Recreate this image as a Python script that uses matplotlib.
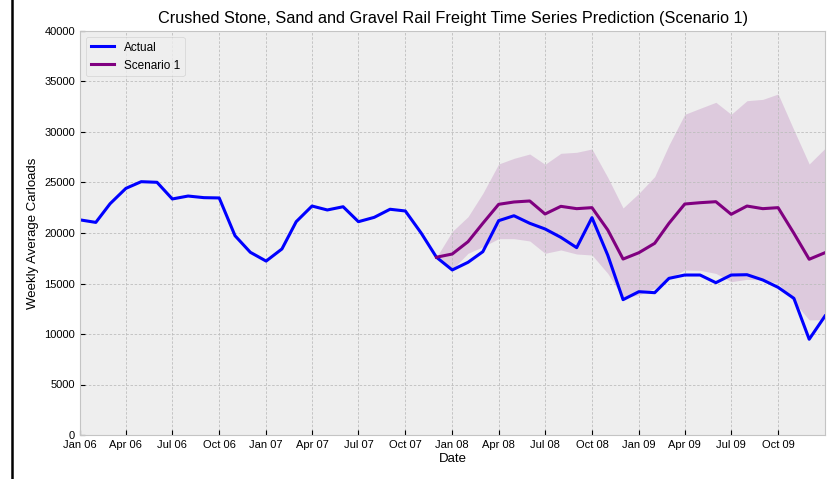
import matplotlib

matplotlib.use("Agg")

import matplotlib.pyplot as plt
from matplotlib.lines import Line2D
import pandas as pd

# monthly points, Jan 2006 .. Jan 2010
dates = pd.date_range("2006-01-01", periods=49, freq="MS")

actual = [
    21300, 21050, 22900, 24420, 25080, 25020, 23370, 23660, 23500, 23470,
    19730, 18090, 17220, 18420, 21120, 22670, 22280, 22600, 21120, 21550,
    22350, 22180, 20000, 17600, 16340, 17100, 18150, 21220, 21710, 20960,
    20400, 19570, 18550, 21520, 17800, 13400, 14190, 14090, 15510, 15840,
    15840, 15080, 15840, 15870, 15350, 14620, 13530, 9480, 11780,
]

# scenario starts at Dec 2007 (index 23)
fc_start = 23
scenario = [
    17600, 17920, 19140, 20960, 22840, 23070, 23170, 21880, 22640, 22410,
    22510, 20300, 17420, 18050, 18980, 20960, 22870, 23000, 23100, 21850,
    22670, 22410, 22510, 19970, 17400, 18050,
]
upper = [
    17600, 20150, 21620, 23930, 26830, 27390, 27820, 26800, 27890, 27990,
    28320, 25500, 22480, 23930, 25580, 28710, 31750, 32340, 32940, 31750,
    33100, 33230, 33760, 30200, 26830, 28380,
]
lower = [
    17600, 16400, 17990, 18640, 19440, 19440, 19210, 17990, 18320, 17920,
    17820, 16000, 13600, 13860, 14520, 15510, 16340, 16300, 16000, 15180,
    15410, 15350, 15020, 13200, 11390, 11420,
]

tick_dates = dates[0:46:3]
tick_labels = [
    "Jan 06", "Apr 06", "Jul 06", "Oct 06", "Jan 07", "Apr 07", "Jul 07", "Oct 07",
    "Jan 08", "Apr 08", "Jul 08", "Oct 08", "Jan 09", "Apr 09", "Jul 09", "Oct 09",
]

plt.style.use("bmh")
plt.rcParams["font.family"] = ["Liberation Sans", "DejaVu Sans"]

fig = plt.figure(figsize=(8.34, 4.79), dpi=100)
fig.patch.set_facecolor("white")
ax = fig.add_axes([80 / 834, 44 / 479, 745 / 834, 404 / 479])

fc_dates = dates[fc_start:]
ax.fill_between(fc_dates, lower, upper, color="purple", alpha=0.15, linewidth=0)
ax.plot(dates, actual, color="blue", lw=2.2, label="Actual")
ax.plot(fc_dates, scenario, color="purple", lw=2.2, label="Scenario 1")

ax.set_xlim(dates[0], dates[-1])
ax.set_ylim(0, 40000)
ax.set_yticks(range(0, 40001, 5000))
ax.set_xticks(tick_dates)
ax.set_xticklabels(tick_labels)
ax.tick_params(labelsize=8)
ax.grid(True, linestyle=(0, (3, 2)), color="#bdbdbd", lw=0.6)
for s in ax.spines.values():
    s.set_color("#c4c4c4")

ax.set_title("Crushed Stone, Sand and Gravel Rail Freight Time Series Prediction (Scenario 1)",
             fontsize=11.7, pad=6)
ax.set_xlabel("Date", fontsize=9.5, labelpad=2)
ax.set_ylabel("Weekly Average Carloads", fontsize=9.5)
ax.legend(loc="upper left", fontsize=8.5, frameon=True)

# border line at left edge of the original image
fig.add_artist(Line2D([12 / 834, 12 / 834], [0, 1], color="black", lw=1.8,
                      transform=fig.transFigure))

fig.savefig("out.png", dpi=100)
